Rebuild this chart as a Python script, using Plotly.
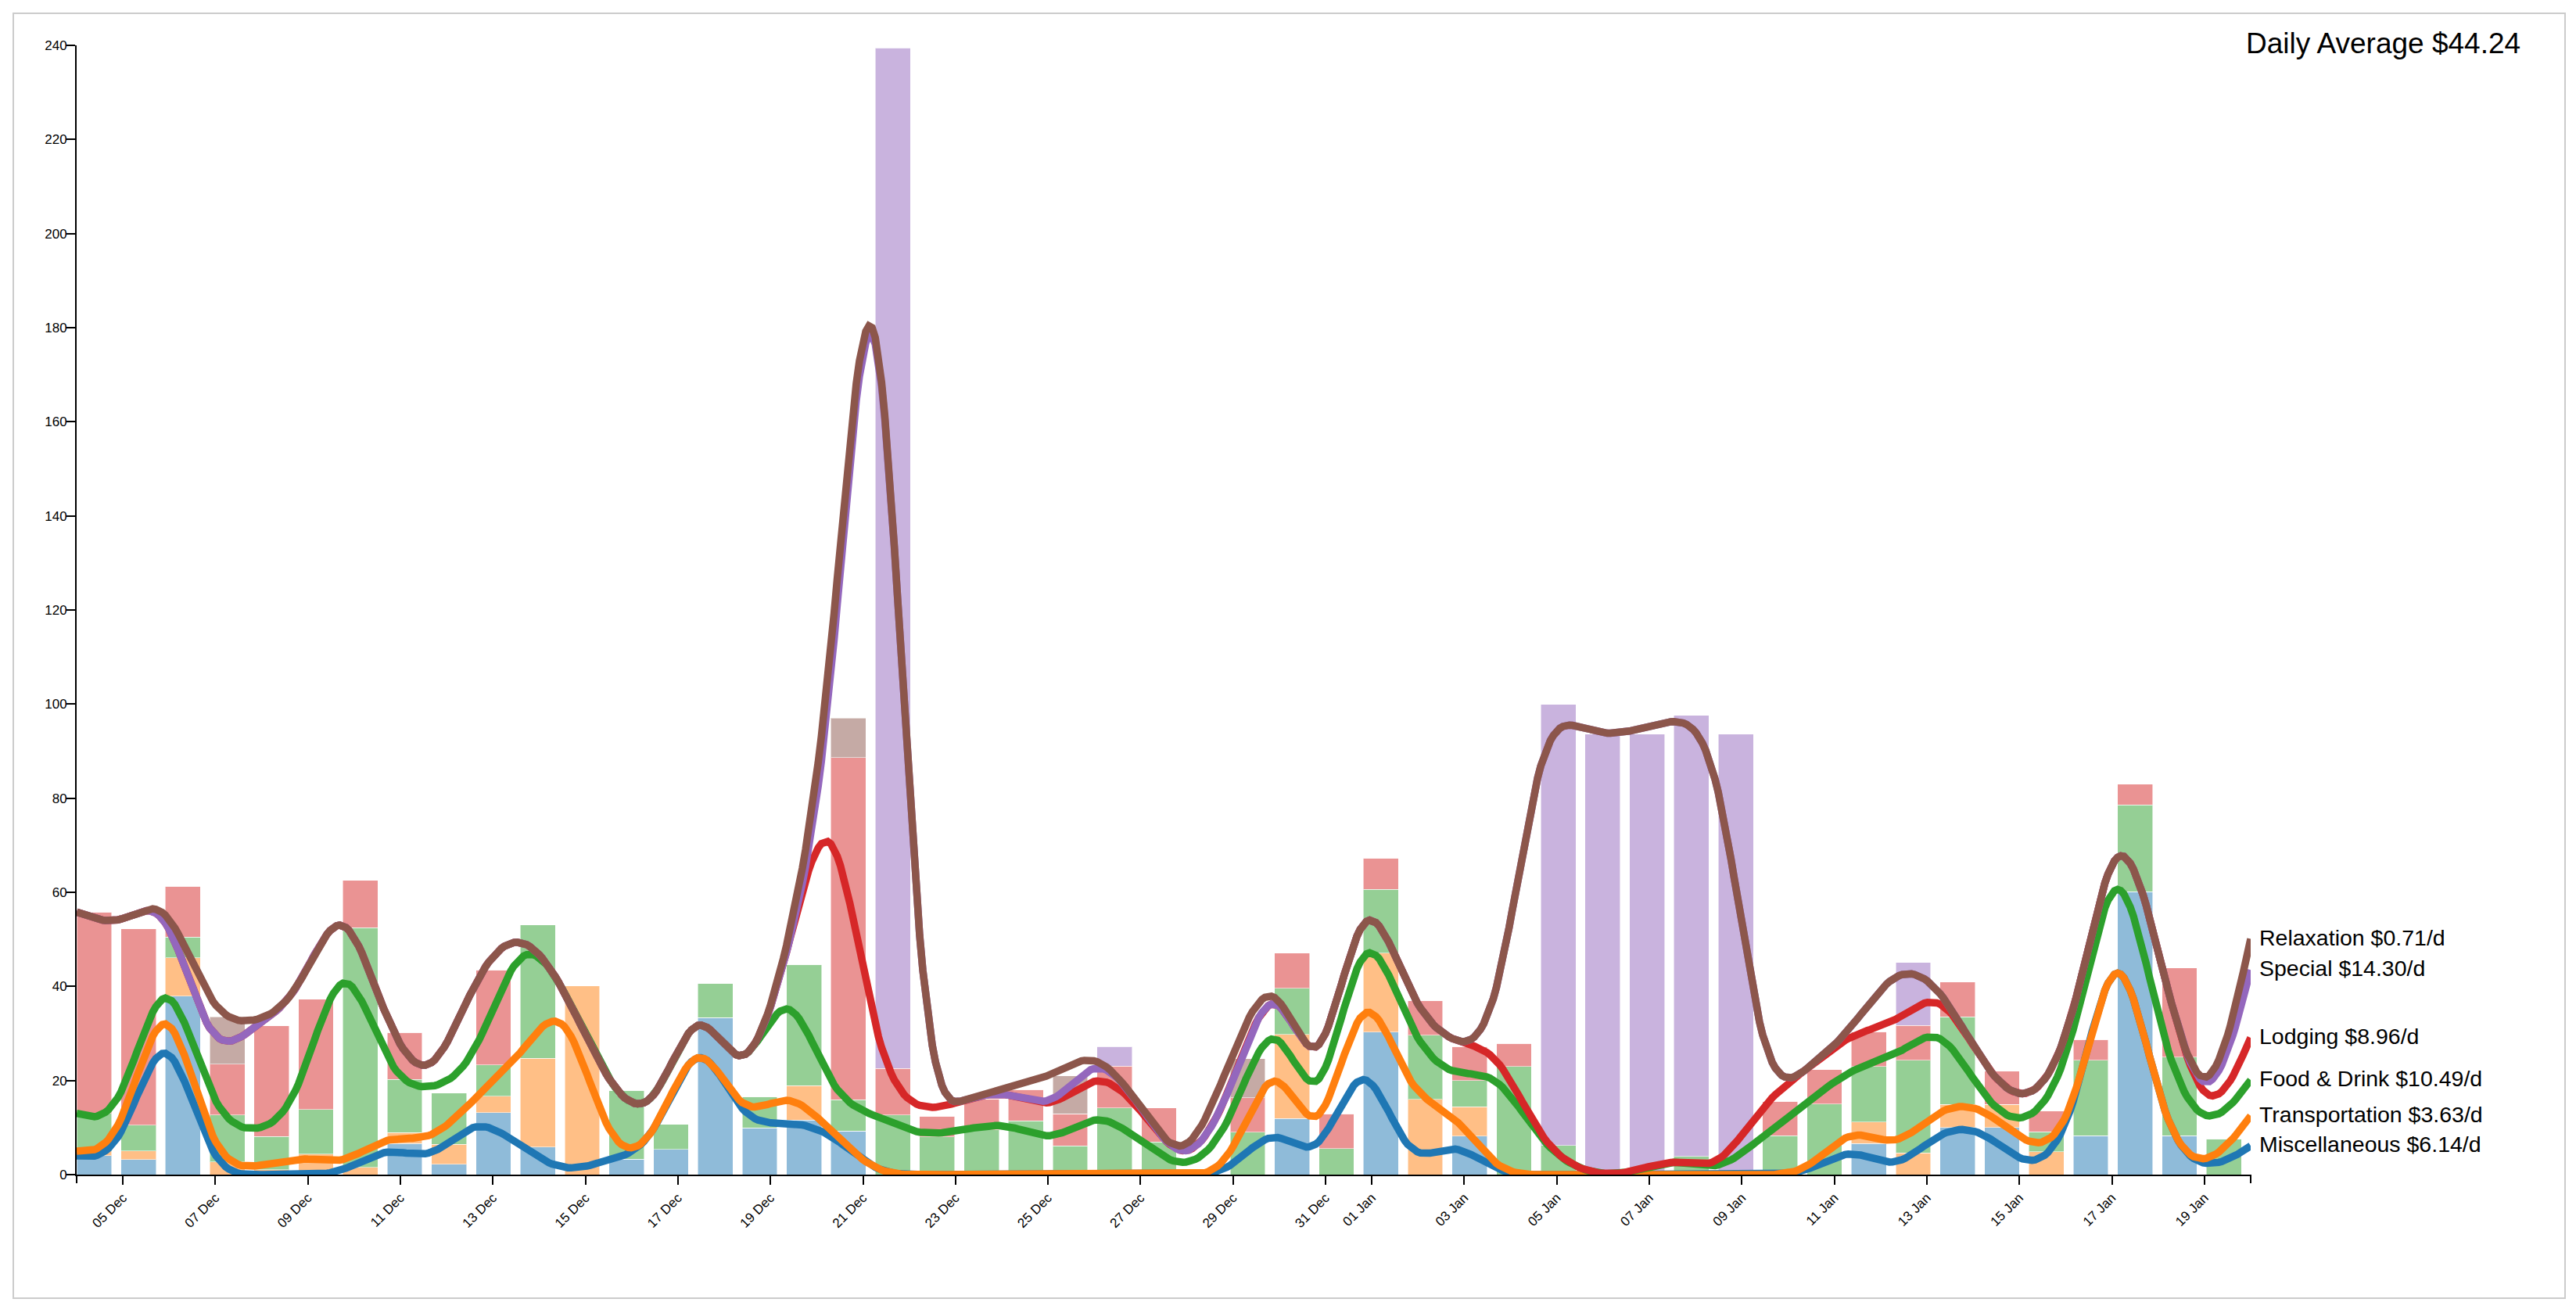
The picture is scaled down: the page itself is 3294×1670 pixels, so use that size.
import plotly.graph_objects as go

# ---------------- data ----------------
categories = ["Miscellaneous", "Transportation", "Food & Drink", "Lodging", "Special", "Relaxation"]
line_colors = ["#1f77b4", "#ff7f0e", "#2ca02c", "#d62728", "#9467bd", "#8c564b"]
bar_colors = ["rgba(31,119,180,0.5)", "rgba(255,127,14,0.5)", "rgba(44,160,44,0.5)",
              "rgba(214,39,40,0.5)", "rgba(148,103,189,0.5)", "rgba(140,86,75,0.5)"]

# one value per day (index 0 = first day); the last entry lies past the axis end
misc = [4.0, 3.2, 37.9, 0, 0, 0, 0, 6.6, 2.2, 13.2, 5.9, 0, 3.3, 5.4, 33.4, 9.9, 11.6, 9.3,
        0, 0, 0, 0, 0, 0, 0, 0, 0, 11.9, 0, 30.3, 0, 8.2, 0, 0, 0, 0, 0, 0, 0, 0,
        6.6, 0, 10.0, 10.0, 0, 8.3, 60.1, 8.3, 0, 6.1]
transportation = [1.0, 1.8, 8.2, 2.7, 1.0, 4.4, 1.5, 2.3, 4.2, 3.5, 18.8, 40.1, 0, 0, 0, 0, 7.3, 0,
                  0, 0, 0, 0, 0, 0, 0, 0, 0, 17.9, 0, 16.8, 16.0, 6.2, 0, 0, 0, 0, 0, 0, 0, 0,
                  4.6, 4.6, 4.9, 4.9, 4.9, 0, 0, 0, 0, 6.4]
food = [8.0, 5.5, 4.4, 10.0, 7.1, 9.4, 51.0, 11.3, 10.9, 6.6, 28.4, 0, 14.6, 5.3, 7.3, 6.7, 25.8, 6.6,
        12.7, 8.0, 9.5, 11.4, 6.1, 14.2, 6.9, 0, 9.0, 9.8, 5.5, 13.5, 13.6, 5.6, 23.0, 6.2, 0, 0, 3.9, 0,
        8.3, 15.0, 11.8, 19.7, 18.6, 0, 4.2, 16.0, 18.5, 16.7, 7.6, 7.6]
lodging = [42.8, 41.7, 10.8, 10.8, 23.5, 23.5, 10.0, 10.0, 0, 20.2, 0, 0, 0, 0, 0, 0, 0, 72.7,
           9.9, 4.4, 6.6, 6.7, 6.8, 8.9, 7.3, 0, 7.3, 7.5, 7.4, 6.7, 7.3, 7.2, 4.9, 0, 0, 0, 0, 0,
           7.3, 7.3, 7.4, 7.4, 7.4, 7.1, 4.4, 4.4, 4.4, 18.9, 0, 9.0]
special = [0, 0, 0, 0, 0, 0, 0, 0, 0, 0, 0, 0, 0, 0, 0, 0, 0, 0,
           216.9, 0, 0, 0, 0, 4.1, 0, 0, 0, 0, 0, 0, 0, 0, 0, 93.7, 93.6, 93.6, 93.7, 93.6,
           0, 0, 0, 13.4, 0, 0, 0, 0, 0, 0, 0, 14.4]
relaxation = [0, 0, 0, 10.0, 0, 0, 0, 0, 0, 0, 0, 0, 0, 0, 0, 0, 0, 8.4,
              0, 0, 0, 0, 8.1, 0, 0, 0, 8.3, 0, 0, 0, 0, 0, 0, 0, 0, 0, 0, 0,
              0, 0, 0, 0, 0, 0, 0, 0, 0, 0, 0, 6.6]
series = [misc, transportation, food, lodging, special, relaxation]

end_labels = ["Miscellaneous $6.14/d", "Transportation $3.63/d", "Food & Drink $10.49/d",
              "Lodging $8.96/d", "Special $14.30/d", "Relaxation $0.71/d"]
headline = "Daily Average $44.24"

axis_start, axis_end = "2023-12-04", "2024-01-20"
tick_dates = ["2023-12-05", "2023-12-07", "2023-12-09", "2023-12-11", "2023-12-13", "2023-12-15",
              "2023-12-17", "2023-12-19", "2023-12-21", "2023-12-23", "2023-12-25", "2023-12-27",
              "2023-12-29", "2023-12-31", "2024-01-01", "2024-01-03", "2024-01-05", "2024-01-07",
              "2024-01-09", "2024-01-11", "2024-01-13", "2024-01-15", "2024-01-17", "2024-01-19"]
tick_labels = ["05 Dec", "07 Dec", "09 Dec", "11 Dec", "13 Dec", "15 Dec", "17 Dec", "19 Dec",
               "21 Dec", "23 Dec", "25 Dec", "27 Dec", "29 Dec", "31 Dec", "01 Jan", "03 Jan",
               "05 Jan", "07 Jan", "09 Jan", "11 Jan", "13 Jan", "15 Jan", "17 Jan", "19 Jan"]
y_ticks = list(range(0, 241, 20))

n_days = len(misc)
n_bands = 49
idx = list(range(n_days))


# ---------------- helpers ----------------
def basis_curve(xs, ys, m=14):
    """Uniform cubic B-spline (same construction as d3.curveBasis)."""
    P = list(zip(xs, ys))
    n = len(P)
    out = [P[0]]
    cur = ((5 * P[0][0] + P[1][0]) / 6, (5 * P[0][1] + P[1][1]) / 6)
    out.append(cur)

    def bez(p0, c1, c2, p3):
        for s in range(1, m + 1):
            t = s / m
            u = 1 - t
            out.append((u ** 3 * p0[0] + 3 * u * u * t * c1[0] + 3 * u * t * t * c2[0] + t ** 3 * p3[0],
                        u ** 3 * p0[1] + 3 * u * u * t * c1[1] + 3 * u * t * t * c2[1] + t ** 3 * p3[1]))

    for k in range(2, n):
        a, b, c = P[k - 2], P[k - 1], P[k]
        c1 = ((2 * a[0] + b[0]) / 3, (2 * a[1] + b[1]) / 3)
        c2 = ((a[0] + 2 * b[0]) / 3, (a[1] + 2 * b[1]) / 3)
        e = ((a[0] + 4 * b[0] + c[0]) / 6, (a[1] + 4 * b[1] + c[1]) / 6)
        bez(cur, c1, c2, e)
        cur = e
    a, b = P[n - 2], P[n - 1]
    c1 = ((2 * a[0] + b[0]) / 3, (2 * a[1] + b[1]) / 3)
    c2 = ((a[0] + 2 * b[0]) / 3, (a[1] + 2 * b[1]) / 3)
    e = ((a[0] + 5 * b[0]) / 6, (a[1] + 5 * b[1]) / 6)
    bez(cur, c1, c2, e)
    out.append(P[n - 1])
    return [p[0] for p in out], [p[1] for p in out]


fig = go.Figure()

# invisible trace that carries the date axis
fig.add_trace(go.Scatter(x=[axis_start, axis_end], y=[0, 0], mode="lines",
                         line=dict(width=0, color="rgba(0,0,0,0)"), hoverinfo="skip",
                         xaxis="x", yaxis="y", showlegend=False))

# stacked bars
for name, vals, col in zip(categories, series, bar_colors):
    fig.add_trace(go.Bar(
        x=idx, y=vals, offset=0, width=0.79, name=name,
        marker=dict(color=col, line=dict(color="rgba(255,255,255,0.55)", width=1)),
        xaxis="x2", yaxis="y", hoverinfo="skip"))

# smoothed cumulative lines
cum = [0.0] * n_days
ends = []
for name, vals, col in zip(categories, series, line_colors):
    cum = [c + v for c, v in zip(cum, vals)]
    lx, ly = basis_curve(idx, cum)
    fig.add_trace(go.Scatter(
        x=lx, y=ly, mode="lines", name=name, cliponaxis=False,
        line=dict(color=col, width=9.5), xaxis="x2", yaxis="y", hoverinfo="skip"))
    ends.append(cum[-1])

font_family = "Liberation Sans, Arial, sans-serif"
annotations = []
for text, yv in zip(end_labels, ends):
    annotations.append(dict(x=n_days - 1, y=yv, xref="x2", yref="y", text=text, showarrow=False,
                            xanchor="left", yanchor="middle", xshift=9, yshift=2,
                            font=dict(family=font_family, size=28.5, color="black")))

# plot area in pixels
L, R, T, B = 98, 2878, 58, 1502
W, H = 3294, 1670
pw, ph = R - L, B - T


def px(xp):
    return (xp - L) / pw


def py(yp):
    return (B - yp) / ph


annotations.append(dict(x=px(3225), y=py(56), xref="paper", yref="paper", text=headline,
                        showarrow=False, xanchor="right", yanchor="middle",
                        font=dict(family=font_family, size=37, color="black")))

shapes = [
    dict(type="rect", xref="paper", yref="paper", x0=px(17), x1=px(3280), y0=py(1660), y1=py(17),
         line=dict(color="#cccccc", width=2), fillcolor="rgba(0,0,0,0)", layer="below"),
    dict(type="line", xref="paper", yref="paper", x0=0, x1=0, y0=0, y1=py(B + 11),
         line=dict(color="black", width=2)),
    dict(type="line", xref="paper", yref="paper", x0=1, x1=1, y0=0, y1=py(B + 11),
         line=dict(color="black", width=2)),
]

tickfont = dict(family=font_family, size=17, color="black")
fig.update_layout(
    width=W, height=H,
    margin=dict(l=L, r=W - R, t=T, b=H - B, pad=0),
    paper_bgcolor="white", plot_bgcolor="white",
    showlegend=False, barmode="stack",
    annotations=annotations, shapes=shapes,
    xaxis=dict(type="date", range=[axis_start, axis_end], tickmode="array",
               tickvals=tick_dates, ticktext=tick_labels,
               tickangle=-45, ticks="outside", ticklen=11, tickwidth=2, tickcolor="black",
               showline=True, linecolor="black", linewidth=2, showgrid=False, zeroline=False,
               showticklabels=True, tickfont=tickfont, layer="below traces", fixedrange=True),
    xaxis2=dict(overlaying="x", anchor="y", range=[0, n_bands], visible=False, fixedrange=True),
    yaxis=dict(range=[0, 240], tickvals=y_ticks, ticks="outside", ticklen=11, tickwidth=2,
               tickcolor="black", showline=True, linecolor="black", linewidth=2,
               showgrid=False, zeroline=False, tickfont=tickfont, layer="below traces",
               ticklabelstandoff=-4, fixedrange=True),
)

fig.write_html("out.html")
